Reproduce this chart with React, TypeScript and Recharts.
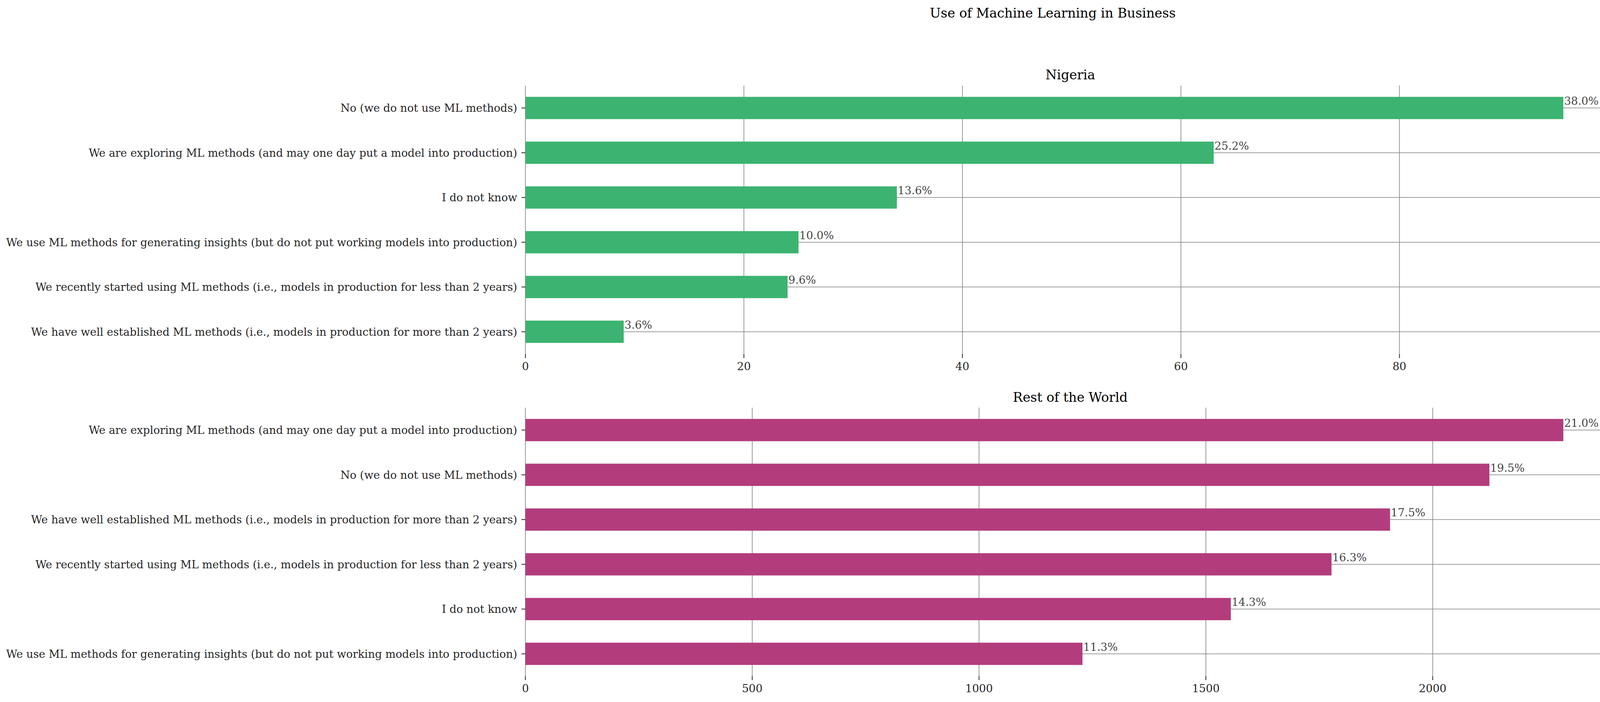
import { Bar, BarChart, CartesianGrid, LabelList, XAxis, YAxis } from "recharts"

const nigeriaCategories = [
  "No (we do not use ML methods)",
  "We are exploring ML methods (and may one day put a model into production)",
  "I do not know",
  "We use ML methods for generating insights (but do not put working models into production)",
  "We recently started using ML methods (i.e., models in production for less than 2 years)",
  "We have well established ML methods (i.e., models in production for more than 2 years)",
]
const nigeriaCounts = [95, 63, 34, 25, 24, 9]
const nigeriaTicks = [0, 20, 40, 60, 80]

const worldCategories = [
  "We are exploring ML methods (and may one day put a model into production)",
  "No (we do not use ML methods)",
  "We have well established ML methods (i.e., models in production for more than 2 years)",
  "We recently started using ML methods (i.e., models in production for less than 2 years)",
  "I do not know",
  "We use ML methods for generating insights (but do not put working models into production)",
]
const worldCounts = [2288, 2125, 1906, 1777, 1555, 1228]
const worldTicks = [0, 500, 1000, 1500, 2000]

const FONT = "'DejaVu Serif', serif"
const TICK_SIZE = 27.8
const TITLE_SIZE = 33.3

function buildRows(categories: string[], counts: number[]) {
  const total = counts.reduce((a, b) => a + b, 0)
  return categories.map((name, i) => ({
    name,
    count: counts[i],
    pct: ((counts[i] / total) * 100).toFixed(1) + "%",
  }))
}

const YTick = ({ x, y, payload }: any) => (
  <text x={x} y={y} dy="0.36em" textAnchor="end" fill="#262626" fontFamily={FONT} fontSize={TICK_SIZE}>
    {payload.value}
  </text>
)

const XTick = ({ x, y, payload }: any) => (
  <text x={x} y={y} dy="0.73em" textAnchor="middle" fill="#262626" fontFamily={FONT} fontSize={TICK_SIZE}>
    {payload.value}
  </text>
)

const PctLabel = (props: any) => {
  const { x, y, width, height, value } = props
  return (
    <text
      x={Number(x) + Number(width) + 2}
      y={Number(y) + Number(height) / 2 - 8}
      fill="#444444"
      fontFamily={FONT}
      fontSize={TICK_SIZE}
    >
      {value}
    </text>
  )
}

interface PanelProps {
  rows: { name: string; count: number; pct: string }[]
  ticks: number[]
  color: string
  height: number
  top: number
  axisHeight: number
}

function Panel({ rows, ticks, color, height, top, axisHeight }: PanelProps) {
  const max = Math.max(...rows.map((r) => r.count)) * 1.05
  // grid only at category centres and x ticks, like matplotlib
  const hLines = ({ offset }: any) =>
    rows.map((_, i) => offset.top + ((i + 0.5) * offset.height) / rows.length)
  const vLines = ({ offset }: any) => ticks.map((t) => offset.left + (t / max) * offset.width)
  return (
    <BarChart
      width={4155}
      height={height}
      data={rows}
      layout="vertical"
      barCategoryGap="25%"
      margin={{ top, right: 20, bottom: 0, left: 0 }}
    >
      <CartesianGrid
        stroke="#808080"
        strokeWidth={1.6}
        horizontalCoordinatesGenerator={hLines}
        verticalCoordinatesGenerator={vLines}
      />
      <XAxis
        type="number"
        domain={[0, max]}
        ticks={ticks}
        height={axisHeight}
        axisLine={false}
        tickLine={{ stroke: "#262626", strokeWidth: 2 }}
        tickSize={10}
        tickMargin={11}
        tick={<XTick />}
      />
      <YAxis
        type="category"
        dataKey="name"
        width={1345}
        axisLine={false}
        tickLine={{ stroke: "#262626", strokeWidth: 2 }}
        tickSize={10}
        tickMargin={11}
        tick={<YTick />}
        interval={0}
      />
      <Bar dataKey="count" fill={color} isAnimationActive={false}>
        <LabelList dataKey="pct" content={<PctLabel />} />
      </Bar>
    </BarChart>
  )
}

export default function App() {
  const nigeria = buildRows(nigeriaCategories, nigeriaCounts)
  const world = buildRows(worldCategories, worldCounts)
  return (
    <div style={{ position: "absolute", left: 0, top: 0, width: 4155, height: 1796, background: "#fff" }}>
      <div style={{ position: "absolute", left: 0, top: 0 }}>
        <Panel rows={nigeria} ticks={nigeriaTicks} color="#3cb371" height={1000} top={219} axisHeight={94} />
      </div>
      <div style={{ position: "absolute", left: 0, top: 1000 }}>
        <Panel rows={world} ticks={worldTicks} color="#b33c7d" height={796} top={43} axisHeight={66} />
      </div>
      <svg
        width={4155}
        height={1796}
        style={{ position: "absolute", left: 0, top: 0, pointerEvents: "none" }}
      >
        <text x={2695} y={45} textAnchor="middle" fontFamily={FONT} fontSize={TITLE_SIZE} fill="#000">
          Use of Machine Learning in Business
        </text>
        <text x={2740} y={203} textAnchor="middle" fontFamily={FONT} fontSize={TITLE_SIZE} fill="#000">
          Nigeria
        </text>
        <text x={2740} y={1028} textAnchor="middle" fontFamily={FONT} fontSize={TITLE_SIZE} fill="#000">
          Rest of the World
        </text>
      </svg>
    </div>
  )
}
